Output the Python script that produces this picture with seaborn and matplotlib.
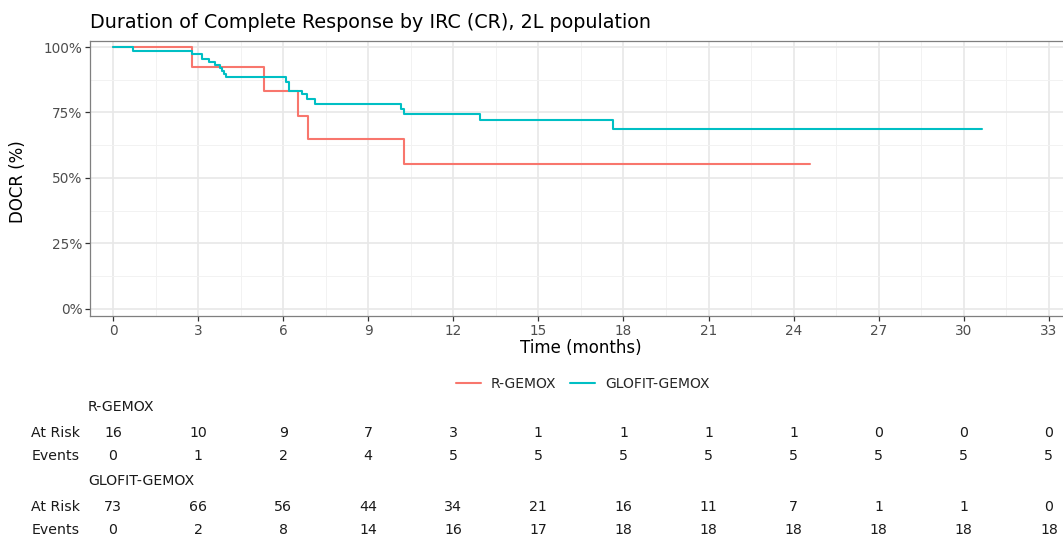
import numpy as np
import pandas as pd
import matplotlib
matplotlib.use("Agg")
import matplotlib.pyplot as plt
from matplotlib.lines import Line2D
from matplotlib.ticker import FuncFormatter, MultipleLocator
import matplotlib.transforms as mtransforms
import seaborn as sns

# Kaplan-Meier step estimates (time in months, probability of remaining in CR)
arms = ["R-GEMOX", "GLOFIT-GEMOX"]
r_time = [0, 2.77, 5.31, 6.54, 6.89, 10.27, 24.58]
r_surv = [1.0, 0.922, 0.831, 0.738, 0.648, 0.553, 0.553]
g_time = [0, 0.72, 2.77, 3.13, 3.40, 3.60, 3.77, 3.84, 3.92, 4.00,
          6.09, 6.20, 6.65, 6.83, 7.13, 10.15, 10.27, 12.94, 17.64, 30.65]
g_surv = [1.0, 0.985, 0.972, 0.955, 0.942, 0.931, 0.919, 0.908, 0.896, 0.884,
          0.866, 0.833, 0.819, 0.800, 0.783, 0.764, 0.745, 0.721, 0.686, 0.686]

# Risk table
table_times = [0, 3, 6, 9, 12, 15, 18, 21, 24, 27, 30, 33]
r_at_risk = [16, 10, 9, 7, 3, 1, 1, 1, 1, 0, 0, 0]
r_events = [0, 1, 2, 4, 5, 5, 5, 5, 5, 5, 5, 5]
g_at_risk = [73, 66, 56, 44, 34, 21, 16, 11, 7, 1, 1, 0]
g_events = [0, 2, 8, 14, 16, 17, 18, 18, 18, 18, 18, 18]

colors = {"R-GEMOX": "#F8766D", "GLOFIT-GEMOX": "#00BFC4"}

df = pd.concat([
    pd.DataFrame({"time": r_time, "surv": r_surv, "arm": arms[0]}),
    pd.DataFrame({"time": g_time, "surv": g_surv, "arm": arms[1]}),
], ignore_index=True)

sns.set_theme(style="white")
plt.rcParams["font.family"] = ["DejaVu Sans"]

W, H = 1063, 540
fig = plt.figure(figsize=(W / 100, H / 100), dpi=100)
fig.patch.set_facecolor("white")

x_lo, x_hi = -0.81, 34.0
px_per_month = 28.36
ax_left, ax_top, ax_bottom = 90, 41, 316
ax_width_px = (x_hi - x_lo) * px_per_month
ax = fig.add_axes([ax_left / W, 1 - ax_bottom / H, ax_width_px / W, (ax_bottom - ax_top) / H])

sns.lineplot(data=df, x="time", y="surv", hue="arm", hue_order=arms, palette=colors,
             drawstyle="steps-post", estimator=None, sort=True, legend=False,
             linewidth=1.5, ax=ax)

ax.set_xlim(x_lo, x_hi)
ax.set_ylim(-0.027, 1.023)
ax.xaxis.set_major_locator(MultipleLocator(3))
ax.xaxis.set_minor_locator(MultipleLocator(1.5))
ax.yaxis.set_major_locator(MultipleLocator(0.25))
ax.yaxis.set_minor_locator(MultipleLocator(0.125))
ax.yaxis.set_major_formatter(FuncFormatter(lambda v, p: f"{int(round(v * 100))}%"))
ax.grid(which="major", color="#E8E8E8", linewidth=1.2)
ax.grid(which="minor", color="#F2F2F2", linewidth=0.7)
ax.set_axisbelow(True)
for s in ax.spines.values():
    s.set_color("#7F7F7F")
    s.set_linewidth(0.9)
ax.tick_params(axis="both", which="major", length=3.5, width=0.9, color="#333333",
               labelcolor="#4D4D4D", labelsize=9.8, pad=2, bottom=True, left=True)
ax.tick_params(which="minor", length=0)
ax.set_xlabel("Time (months)", fontsize=12, color="black", labelpad=1)
ax.set_ylabel("DOCR (%)", fontsize=12, color="black", va="center")
ax.xaxis.set_label_coords((581 - ax_left) / ax_width_px, -0.085)
ax.yaxis.set_label_coords((18 - ax_left) / ax_width_px, 0.49)

fig.text(ax_left / W, 1 - 22 / H, "Duration of Complete Response by IRC (CR), 2L population",
         fontsize=13.8, ha="left", va="center", color="black")

# Legend below the panel
handles = [Line2D([], [], color=colors[a], linewidth=1.5) for a in arms]
fig.legend(handles, arms, loc="center", bbox_to_anchor=(583 / W, 1 - 384 / H), ncol=2,
           frameon=False, fontsize=10, handlelength=1.8, columnspacing=1.0,
           handletextpad=0.7)

# Risk table aligned with the x axis
trans = mtransforms.blended_transform_factory(ax.transData, fig.transFigure)
label_x = 80 / W
group_x = 88 / W
rows = [
    ("R-GEMOX", 407, [("At Risk", 433, r_at_risk), ("Events", 456, r_events)]),
    ("GLOFIT-GEMOX", 481, [("At Risk", 507, g_at_risk), ("Events", 530, g_events)]),
]
for title, ty, lines in rows:
    fig.text(group_x, 1 - ty / H, title, fontsize=10.2, ha="left", va="center", color="#1A1A1A")
    for lab, ly, vals in lines:
        fig.text(label_x, 1 - ly / H, lab, fontsize=10.2, ha="right", va="center", color="#1A1A1A")
        for t, v in zip(table_times, vals):
            fig.text(t, 1 - ly / H, str(v), fontsize=10.2, ha="center", va="center",
                     color="#1A1A1A", transform=trans)

fig.savefig("out.png", dpi=100, facecolor="white")
